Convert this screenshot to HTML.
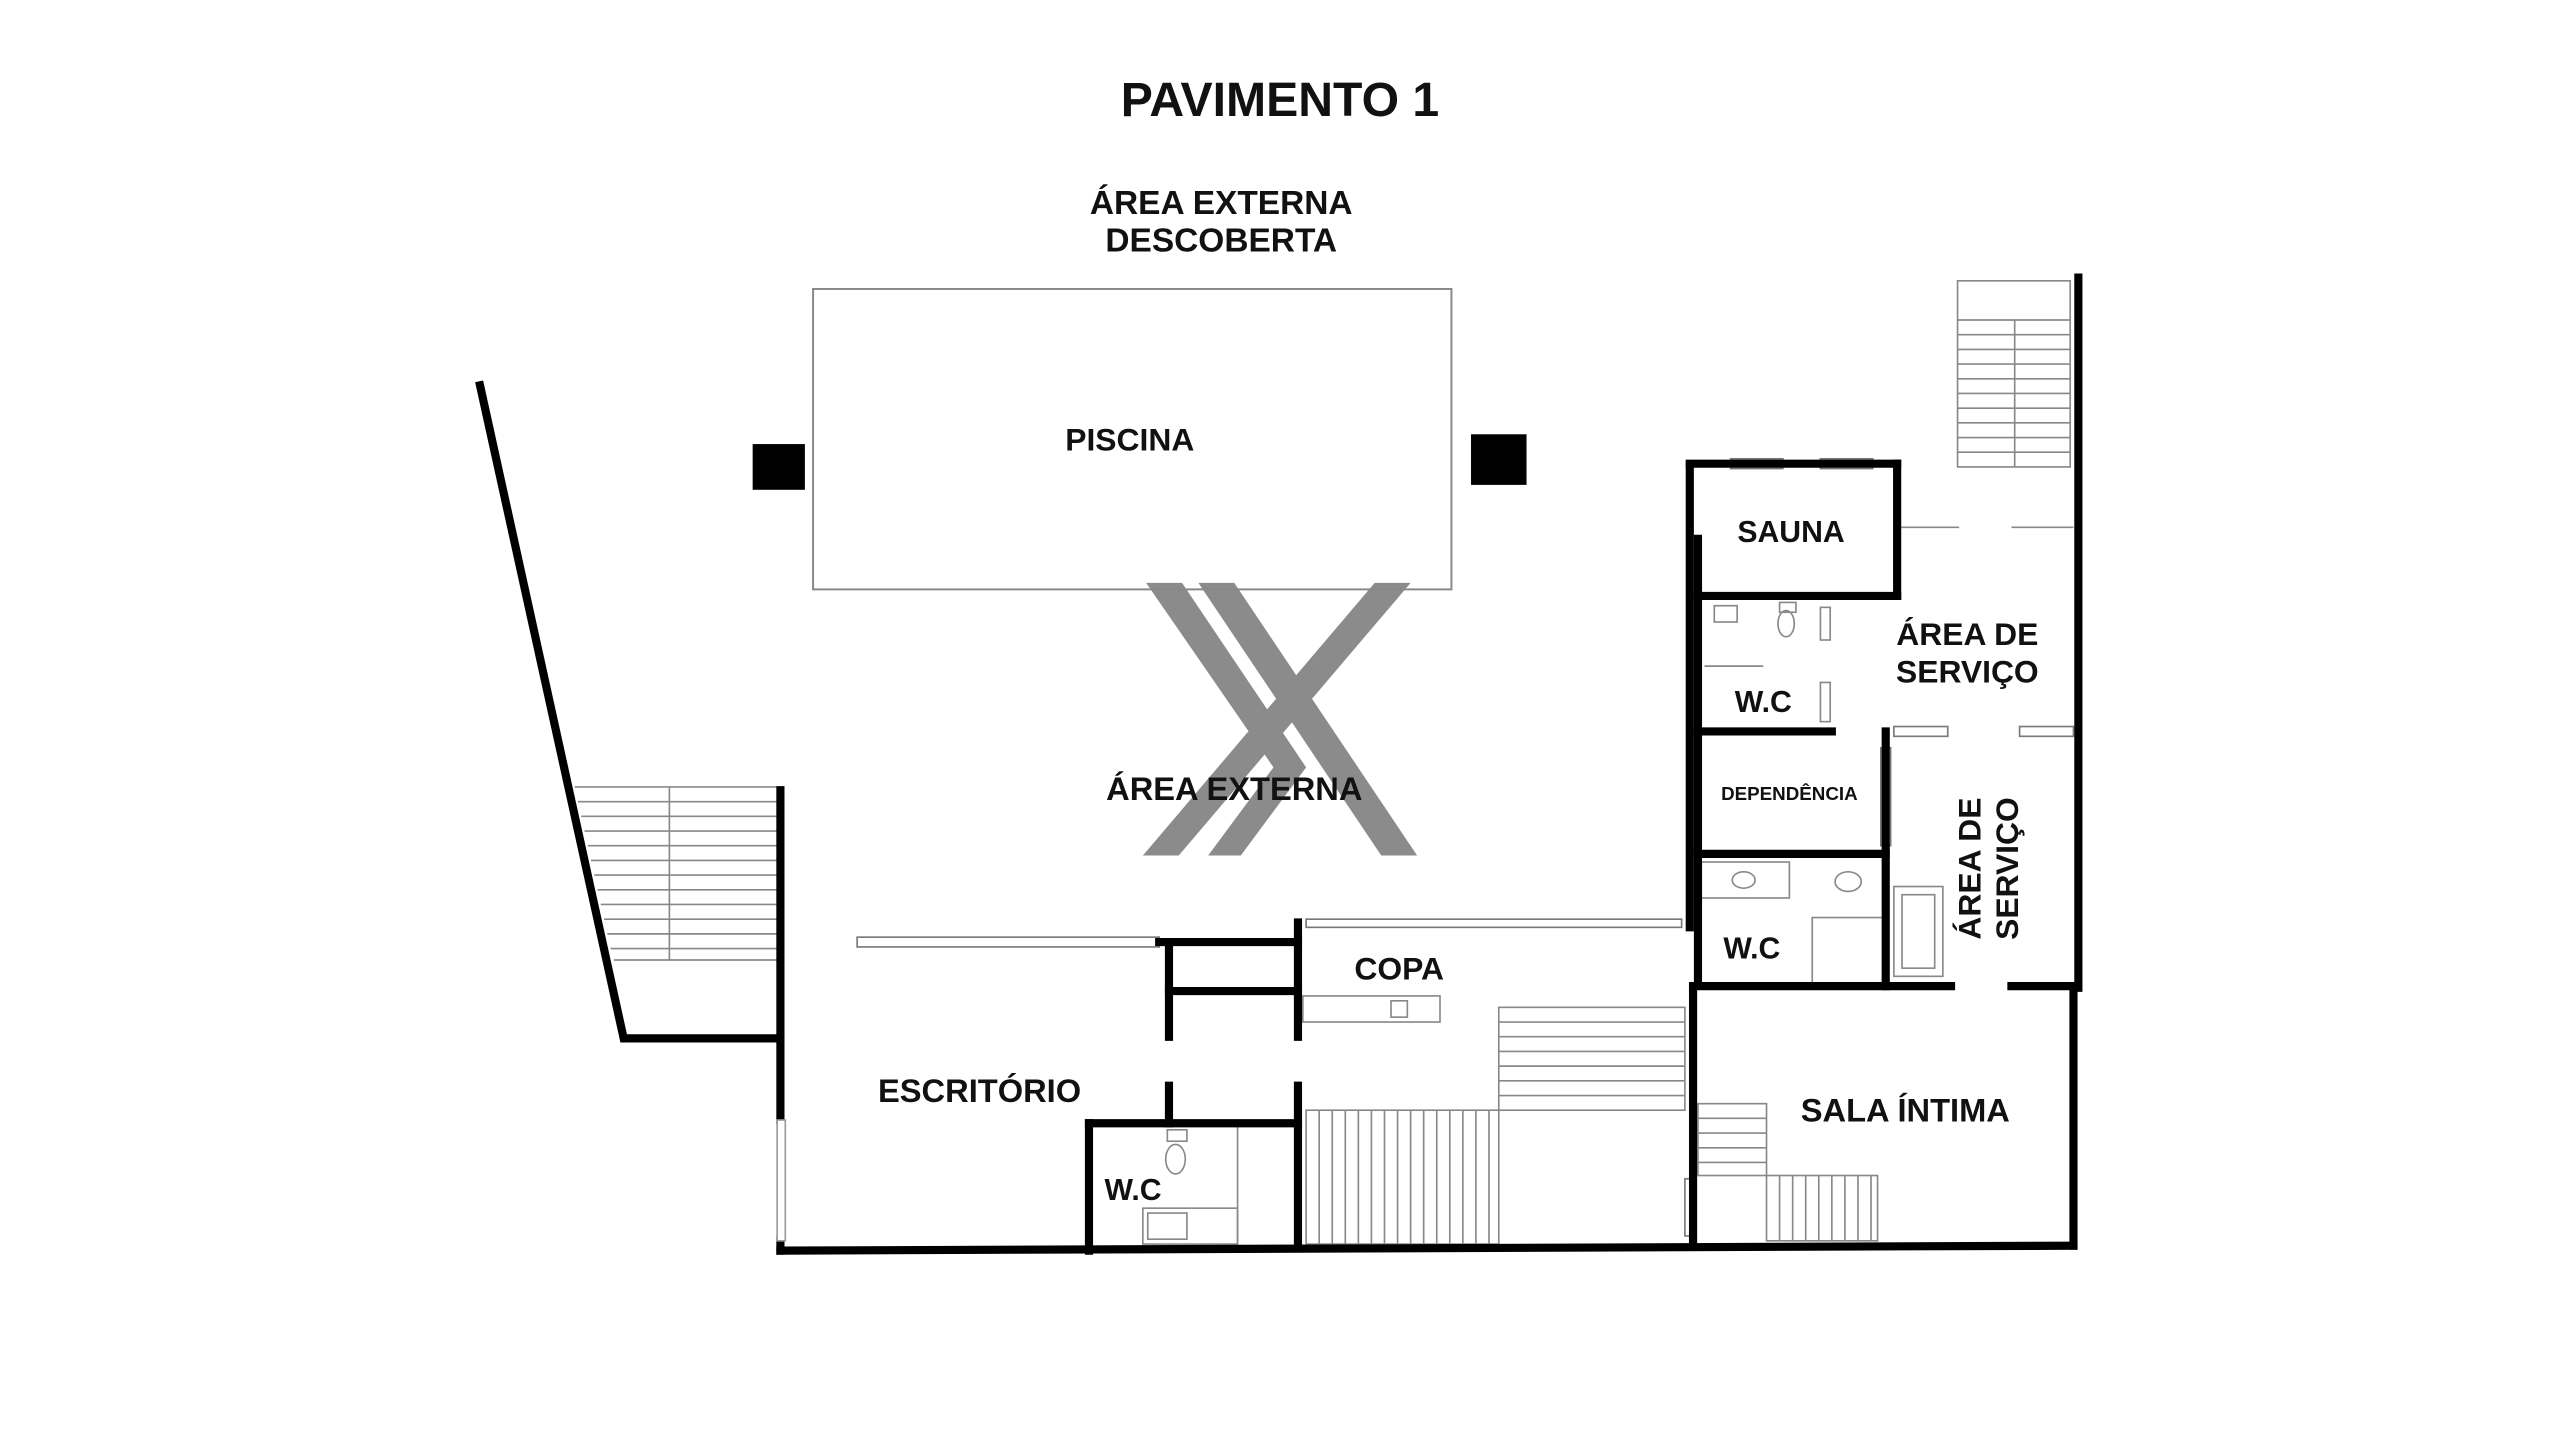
<!DOCTYPE html>
<html><head><meta charset="utf-8"><style>
html,body{margin:0;padding:0;background:#fff;width:2560px;height:1440px;overflow:hidden}
svg{display:block}
text{font-family:"Liberation Sans",sans-serif;font-weight:bold;fill:#111;text-anchor:middle}
</style></head><body>
<svg width="2560" height="1440" viewBox="0 0 1568 882" preserveAspectRatio="none">
<rect width="1568" height="882" fill="#fff"/>
<g fill="#777" opacity="0.85">
<polygon points="702,357 724,357 800,470 760,524 740,524 780,470"/>
<polygon points="734,357 756,357 868,524 846,524"/>
<polygon points="842,357 864,357 722,524 700,524"/>
</g>
<text x="784" y="71" font-size="29.5">PAVIMENTO 1</text>
<text x="748" y="131" font-size="20.5">ÁREA EXTERNA</text>
<text x="748" y="154" font-size="20.5">DESCOBERTA</text>
<rect x="498" y="177" width="391" height="184" fill="none" stroke="#888" stroke-width="1.2"/>
<rect x="461" y="272" width="32" height="28" fill="#000"/>
<rect x="901" y="266" width="34" height="31" fill="#000"/>
<text x="692" y="276" font-size="19.5">PISCINA</text>
<g stroke="#888" stroke-width="1">
<line x1="352" y1="482" x2="476" y2="482"/><line x1="354" y1="491" x2="476" y2="491"/><line x1="356" y1="500" x2="476" y2="500"/><line x1="358" y1="509" x2="476" y2="509"/><line x1="360" y1="518" x2="476" y2="518"/><line x1="362" y1="527" x2="476" y2="527"/><line x1="364" y1="536" x2="476" y2="536"/><line x1="366" y1="545" x2="476" y2="545"/><line x1="368" y1="554" x2="476" y2="554"/><line x1="370" y1="563" x2="476" y2="563"/><line x1="372" y1="572" x2="476" y2="572"/><line x1="374" y1="581" x2="476" y2="581"/><line x1="376" y1="588" x2="476" y2="588"/>
<line x1="410" y1="482" x2="410" y2="588"/>
</g>
<g stroke="#888" stroke-width="1">
<rect x="1199" y="172" width="69" height="114" fill="none"/>
<line x1="1234" y1="196" x2="1234" y2="286"/>
<line x1="1199" y1="196" x2="1268" y2="196"/><line x1="1199" y1="205" x2="1268" y2="205"/><line x1="1199" y1="214" x2="1268" y2="214"/><line x1="1199" y1="223" x2="1268" y2="223"/><line x1="1199" y1="232" x2="1268" y2="232"/><line x1="1199" y1="241" x2="1268" y2="241"/><line x1="1199" y1="250" x2="1268" y2="250"/><line x1="1199" y1="259" x2="1268" y2="259"/><line x1="1199" y1="268" x2="1268" y2="268"/><line x1="1199" y1="277" x2="1268" y2="277"/>
</g>
<g stroke="#888" stroke-width="1">
<rect x="918" y="617" width="114" height="63" fill="none"/>
<line x1="918" y1="626" x2="1032" y2="626"/><line x1="918" y1="635" x2="1032" y2="635"/><line x1="918" y1="644" x2="1032" y2="644"/><line x1="918" y1="653" x2="1032" y2="653"/><line x1="918" y1="662" x2="1032" y2="662"/><line x1="918" y1="671" x2="1032" y2="671"/>
<rect x="800" y="680" width="118" height="82" fill="none"/>
<line x1="808" y1="680" x2="808" y2="762"/><line x1="816" y1="680" x2="816" y2="762"/><line x1="824" y1="680" x2="824" y2="762"/><line x1="832" y1="680" x2="832" y2="762"/><line x1="840" y1="680" x2="840" y2="762"/><line x1="848" y1="680" x2="848" y2="762"/><line x1="856" y1="680" x2="856" y2="762"/><line x1="864" y1="680" x2="864" y2="762"/><line x1="872" y1="680" x2="872" y2="762"/><line x1="880" y1="680" x2="880" y2="762"/><line x1="888" y1="680" x2="888" y2="762"/><line x1="896" y1="680" x2="896" y2="762"/><line x1="904" y1="680" x2="904" y2="762"/><line x1="912" y1="680" x2="912" y2="762"/>
<rect x="1040" y="676" width="42" height="44" fill="none"/>
<line x1="1040" y1="685" x2="1082" y2="685"/><line x1="1040" y1="694" x2="1082" y2="694"/><line x1="1040" y1="703" x2="1082" y2="703"/><line x1="1040" y1="712" x2="1082" y2="712"/>
<rect x="1082" y="720" width="68" height="40" fill="none"/>
<line x1="1090" y1="720" x2="1090" y2="760"/><line x1="1098" y1="720" x2="1098" y2="760"/><line x1="1106" y1="720" x2="1106" y2="760"/><line x1="1114" y1="720" x2="1114" y2="760"/><line x1="1122" y1="720" x2="1122" y2="760"/><line x1="1130" y1="720" x2="1130" y2="760"/><line x1="1138" y1="720" x2="1138" y2="760"/><line x1="1146" y1="720" x2="1146" y2="760"/>
<rect x="798" y="610" width="84" height="16" fill="none"/>
<rect x="852" y="613" width="10" height="10" fill="none"/>
<rect x="700" y="740" width="58" height="22" fill="none"/>
<rect x="703" y="743" width="24" height="16" fill="none"/>
<line x1="758" y1="690" x2="758" y2="762"/>
<rect x="1042" y="528" width="54" height="22" fill="none"/>
<ellipse cx="1068" cy="539" rx="7" ry="5" fill="none"/>
<rect x="1110" y="562" width="44" height="40" fill="none"/>
<rect x="1160" y="543" width="30" height="55" fill="none"/>
<rect x="1165" y="548" width="20" height="45" fill="none"/>
<ellipse cx="1132" cy="540" rx="8" ry="6" fill="none"/>
<ellipse cx="720" cy="710" rx="6" ry="9" fill="none"/>
<rect x="715" y="692" width="12" height="7" fill="none"/>
<ellipse cx="1094" cy="382" rx="5" ry="8" fill="none"/>
<rect x="1090" y="369" width="10" height="6" fill="none"/>
<rect x="1050" y="371" width="14" height="10" fill="none"/>
<rect x="1115" y="372" width="6" height="20" fill="none"/>
<rect x="1115" y="418" width="6" height="24" fill="none"/>
<line x1="1044" y1="408" x2="1080" y2="408"/>
<line x1="1163" y1="323" x2="1200" y2="323"/><line x1="1232" y1="323" x2="1270" y2="323"/>
</g>
<g stroke="#777" stroke-width="1" fill="none">
<rect x="525" y="574" width="185" height="6"/>
<rect x="800" y="563" width="230" height="5"/>
<rect x="1060" y="281" width="32" height="6"/><rect x="1115" y="281" width="32" height="6"/>
<rect x="1160" y="445" width="33" height="6"/><rect x="1237" y="445" width="33" height="6"/>
<rect x="1152" y="458" width="6" height="60"/>
<rect x="1032" y="722" width="6" height="35"/>
</g>
<g stroke="#000" stroke-width="5" fill="none" stroke-linecap="square">
<polyline points="294,236 382,636 478,636"/>
<line x1="478" y1="484" x2="478" y2="686"/>
<line x1="478" y1="760" x2="478" y2="766"/>
<line x1="478" y1="766" x2="1270" y2="763"/>
<line x1="1270" y1="605" x2="1270" y2="763"/>
<line x1="1273" y1="170" x2="1273" y2="605"/>
<line x1="710" y1="577" x2="795" y2="577"/>
<line x1="716" y1="577" x2="716" y2="635"/>
<line x1="716" y1="607" x2="795" y2="607"/>
<line x1="795" y1="565" x2="795" y2="635"/>
<line x1="795" y1="665" x2="795" y2="763"/>
<line x1="716" y1="665" x2="716" y2="688"/>
<line x1="667" y1="688" x2="795" y2="688"/>
<line x1="667" y1="688" x2="667" y2="766"/>
<line x1="1035" y1="285" x2="1035" y2="568"/>
<line x1="1035" y1="284" x2="1162" y2="284"/>
<line x1="1162" y1="284" x2="1162" y2="365"/>
<line x1="1040" y1="365" x2="1162" y2="365"/>
<line x1="1040" y1="330" x2="1040" y2="600"/>
<line x1="1040" y1="448" x2="1122" y2="448"/>
<line x1="1040" y1="523" x2="1155" y2="523"/>
<line x1="1155" y1="448" x2="1155" y2="604"/>
<line x1="1037" y1="604" x2="1195" y2="604"/>
<line x1="1232" y1="604" x2="1272" y2="604"/>
<line x1="1037" y1="604" x2="1037" y2="763"/>
</g>
<rect x="476" y="686" width="5" height="74" fill="#fff" stroke="#999" stroke-width="1"/>
<text x="756" y="490" font-size="20">ÁREA EXTERNA</text>
<text x="1097" y="332" font-size="18.5">SAUNA</text>
<text x="1205" y="395" font-size="19.5">ÁREA DE</text>
<text x="1205" y="418" font-size="19.5">SERVIÇO</text>
<text x="1080" y="436" font-size="18.5">W.C</text>
<text x="1096" y="490" font-size="11.5">DEPENDÊNCIA</text>
<text x="1073" y="587" font-size="18.5">W.C</text>
<text x="857" y="600" font-size="19.5">COPA</text>
<text x="600" y="675" font-size="20">ESCRITÓRIO</text>
<text x="694" y="735" font-size="18.5">W.C</text>
<text x="1167" y="687" font-size="20">SALA ÍNTIMA</text>
<text transform="translate(1213,532) rotate(-90)" font-size="19.5">ÁREA DE</text>
<text transform="translate(1236,532) rotate(-90)" font-size="19.5">SERVIÇO</text>
</svg>
</body></html>
